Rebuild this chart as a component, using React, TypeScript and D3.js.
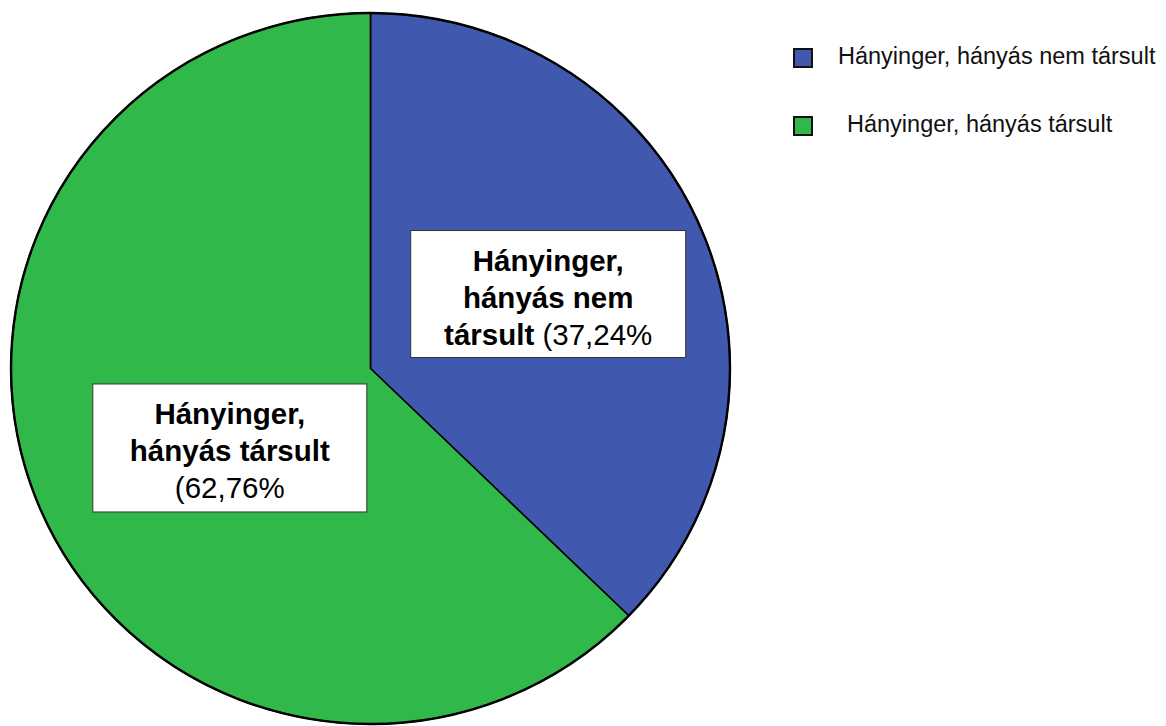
import React from "react";
import * as d3 from "d3";

const categories = ["Hányinger, hányás nem társult", "Hányinger, hányás társult"];
const values = [37.24, 62.76];
const percentLabels = ["(37,24%", "(62,76%"];
const labelBold = [["Hányinger,", "hányás nem", "társult"], ["Hányinger,", "hányás társult", ""]];
const colors = ["#4058AD", "#31B84B"];

const W = 1166;
const H = 726;
const cx = 370.5;
const cy = 368.5;
const rx = 359.5;
const ry = 355.5;

export default function App() {
  const pie = d3.pie<number>().sort(null).startAngle(0).endAngle(2 * Math.PI);
  const arcs = pie(values);
  const arc = d3.arc<d3.PieArcDatum<number>>().innerRadius(0).outerRadius(rx);
  const labelArc = d3.arc<d3.PieArcDatum<number>>().innerRadius(386).outerRadius(0);
  const sy = ry / rx;

  const boxW = [275, 274];
  const boxH = [127, 128];
  const offsets = [[0, 0], [37, 5]];
  const fs = 29.5;
  const lh = 37;

  return (
    <svg width={W} height={H} style={{ position: "absolute", left: 0, top: 0, background: "#fff" }}>
      <g transform={`translate(${cx},${cy}) scale(1,${sy})`}>
        {arcs.map((a, i) => (
          <path key={i} d={arc(a) || ""} fill={colors[i]} stroke="#000" strokeWidth={1.6}
            vectorEffect="non-scaling-stroke" strokeLinejoin="round" />
        ))}
        <ellipse cx={0} cy={0} rx={rx} ry={rx} fill="none" stroke="#000" strokeWidth={2.4}
          vectorEffect="non-scaling-stroke" />
      </g>
      {arcs.map((a, i) => {
        const [lx, ly] = labelArc.centroid(a);
        const x = cx + lx + offsets[i][0];
        const y = cy + ly * sy + offsets[i][1];
        const lines = labelBold[i];
        const lastBold = lines[2];
        return (
          <g key={i} transform={`translate(${x},${y})`}>
            <rect x={-boxW[i] / 2} y={-boxH[i] / 2} width={boxW[i]} height={boxH[i]} fill="#fff"
              stroke="#333" strokeWidth={1} />
            {lines.map((t, j) => (
              <text key={j} x={0} y={-boxH[i] / 2 + 40 + j * lh} textAnchor="middle"
                fontFamily="Liberation Sans, Arial, sans-serif" fontSize={fs} fill="#000">
                {t ? <tspan fontWeight="bold">{t}</tspan> : null}
                {j === 2 ? <tspan>{(lastBold ? " " : "") + percentLabels[i]}</tspan> : null}
              </text>
            ))}
          </g>
        );
      })}
      {categories.map((c, i) => (
        <g key={c} transform={`translate(794,${i === 0 ? 49 : 117})`}>
          <rect x={0} y={0} width={18} height={18} fill={colors[i]} stroke="#111" strokeWidth={2} />
          <text x={i === 0 ? 44 : 53} y={15} fontFamily="Liberation Sans, Arial, sans-serif" fontSize={23.5} fill="#111">
            {c}
          </text>
        </g>
      ))}
    </svg>
  );
}
